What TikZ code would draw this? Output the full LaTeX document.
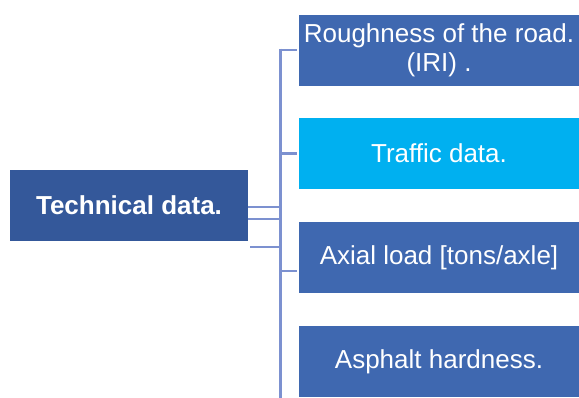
\documentclass[tikz,border=0pt]{standalone}
\usepackage{fontspec}
\setmainfont{Liberation Sans}
\definecolor{rootblue}{RGB}{52,88,154}
\definecolor{itemblue}{RGB}{63,104,176}
\definecolor{itemcyan}{RGB}{0,176,240}
\definecolor{linkblue}{RGB}{124,145,208}
\tikzset{
  rootbox/.style={fill=rootblue, text=white, inner sep=0pt,
    minimum width=238pt, minimum height=71pt,
    font=\fontsize{26}{29}\selectfont\bfseries},
  itembox/.style={fill=itemblue, text=white, inner sep=0pt, align=center,
    minimum width=280pt, minimum height=71pt,
    font=\fontsize{26}{29}\selectfont},
  link/.style={draw=linkblue, line width=2.6pt}
}
\begin{document}
\begin{tikzpicture}[x=1pt,y=-1pt]
\useasboundingbox (0,0) rectangle (579,398);
\node[rootbox] (tech) at (129,205.5) {Technical data.};
\node[itembox] (rough) at (439,50.5) {Roughness of the road.\\(IRI) .};
\node[itembox,fill=itemcyan] (traffic) at (439,153.5) {Traffic data.};
\node[itembox] (axle) at (439,258) {Axial load [tons/axle]};
\node[itembox] (asphalt) at (439,362) {Asphalt hardness.};
\coordinate (sptop) at (280.5,48.7);
\coordinate (spbot) at (280.5,398);
\draw[link] (sptop) -- (spbot);
% root to spine
\draw[link] ([yshift=-1.5pt]tech.east) -- (sptop |- {0,207});
\draw[link] ([yshift=-13.5pt]tech.east) -- (sptop |- {0,219});
\draw[link] ([xshift=2pt]tech.east |- {0,247}) -- (sptop |- {0,247});
% spine to items
\draw[link] (sptop |- {0,50}) -- ([xshift=-2pt]rough.west |- {0,50});
\draw[link] (sptop |- traffic.west) -- ([xshift=-2pt]traffic.west);
\draw[link] (sptop |- {0,271}) -- ([xshift=-2pt]axle.west |- {0,271});
\end{tikzpicture}
\end{document}
